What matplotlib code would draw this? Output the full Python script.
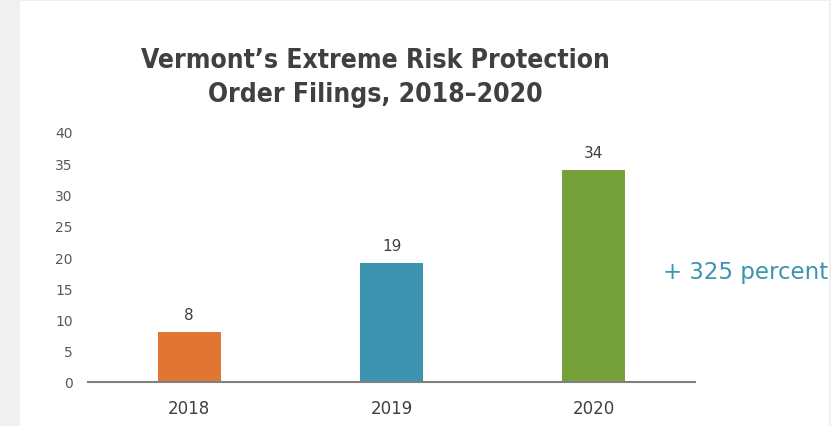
import matplotlib.pyplot as plt
from matplotlib.patches import Rectangle

# filings per year
years = ["2018", "2019", "2020"]
filings = [8, 19, 34]
bar_colors = ["#E07632", "#3C94B0", "#76A03A"]
yticks = [0, 5, 10, 15, 20, 25, 30, 35, 40]

W, H = 831, 427
fig = plt.figure(figsize=(W / 100, H / 100), dpi=100, facecolor="#f0f0f0")

# white card on the gray page
fig.patches.append(Rectangle((20 / W, 0), 809 / W, 425 / H, transform=fig.transFigure,
                             facecolor="white", edgecolor="none", zorder=-5))

ax = fig.add_axes([88 / W, 44 / H, 607 / W, 250 / H])
ax.set_facecolor("none")
ax.set_zorder(2)

x = range(len(years))
bars = ax.bar(x, filings, width=0.31, color=bar_colors, zorder=2)
for b, v in zip(bars, filings):
    ax.text(b.get_x() + b.get_width() / 2, v + 1.6, str(v), ha="center", va="bottom",
            fontsize=11, color="#404040")

ax.set_xlim(-0.5, 2.5)
ax.set_ylim(0, 40)
ax.set_xticks(list(x))
ax.set_xticklabels(years, fontsize=12, color="#404040")
ax.set_yticks(yticks)
ax.set_yticklabels([str(t) for t in yticks], fontsize=10, color="#595959")
ax.tick_params(axis="both", length=0)
ax.tick_params(axis="x", pad=12)
ax.tick_params(axis="y", pad=11)

for s in ["top", "right", "left"]:
    ax.spines[s].set_visible(False)
ax.spines["bottom"].set_color("#7f7f7f")
ax.spines["bottom"].set_linewidth(1.5)

fig.text(375 / W, 1 - 78 / H, "Vermont\u2019s Extreme Risk Protection\nOrder Filings, 2018\u20132020",
         ha="center", va="center", fontsize=19, fontweight="bold", color="#404040",
         fontstretch="condensed", linespacing=1.45, zorder=3)

fig.text(663 / W, 1 - 273 / H, "+ 325 percent", ha="left", va="center",
         fontsize=16.5, color="#3C94B0", zorder=3)

fig.savefig("out.png", dpi=100, facecolor=fig.get_facecolor())
